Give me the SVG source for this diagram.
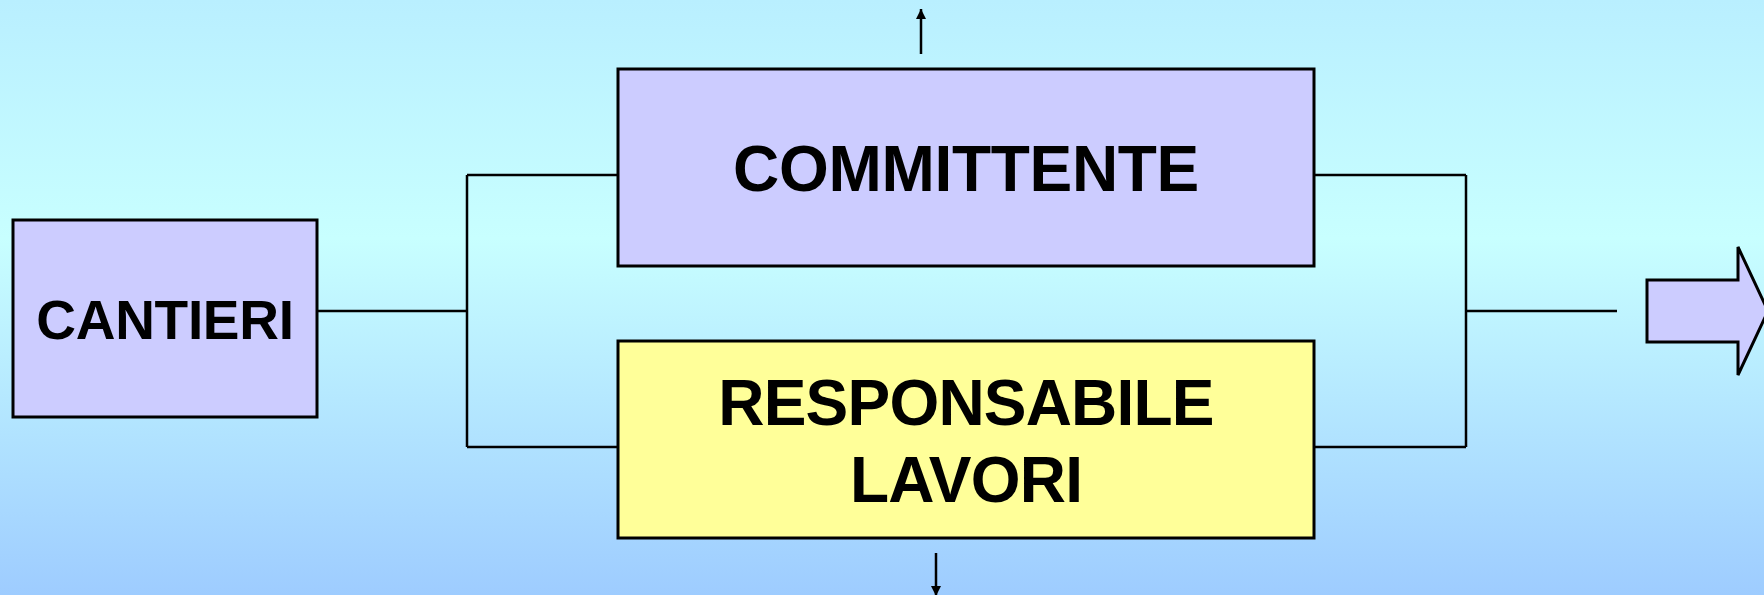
<svg xmlns="http://www.w3.org/2000/svg" width="1764" height="595" viewBox="0 0 1764 595">
<style>
.box{stroke:#000;stroke-width:3}
.lbl{font-family:"Liberation Sans",Arial,sans-serif;font-weight:bold;fill:#000;text-anchor:middle}
.wire{fill:none;stroke:#000;stroke-width:2.5}
</style>
<defs>
<linearGradient id="bg" x1="0" y1="0" x2="0" y2="1">
<stop offset="0" stop-color="#B9EFFF"/>
<stop offset="0.4" stop-color="#C8FFFF"/>
<stop offset="1" stop-color="#9ECCFF"/>
</linearGradient>
<marker id="ah" viewBox="0 0 10 10" refX="10" refY="5" markerWidth="4" markerHeight="4" markerUnits="strokeWidth" orient="auto">
<path d="M0,0 L10,5 L0,10 z" fill="#000"/>
</marker>
</defs>
<rect x="0" y="0" width="1764" height="595" fill="url(#bg)"/>
<g id="connectors">
<path class="wire" d="M317,311 H467 M467,175 V447 M467,175 H618 M467,447 H618"/>
<path class="wire" d="M1314,175 H1466 M1314,447 H1466 M1466,175 V447 M1466,311 H1617"/>
<line class="wire" x1="921" y1="54" x2="921" y2="9" marker-end="url(#ah)"/>
<line class="wire" x1="936" y1="553" x2="936" y2="596" marker-end="url(#ah)"/>
</g>
<g id="cantieri">
<rect class="box" x="13" y="220" width="304" height="197" fill="#CCCCFF"/>
<text class="lbl" x="165" y="339" font-size="55" letter-spacing="-0.3">CANTIERI</text>
</g>
<g id="committente">
<rect class="box" x="618" y="69" width="696" height="197" fill="#CCCCFF"/>
<text class="lbl" x="966" y="191" font-size="64" letter-spacing="-0.3">COMMITTENTE</text>
</g>
<g id="responsabile">
<rect class="box" x="618" y="341" width="696" height="197" fill="#FFFF99"/>
<text class="lbl" x="966" y="425" font-size="64" letter-spacing="-0.8">RESPONSABILE</text>
<text class="lbl" x="966" y="502" font-size="64" letter-spacing="-0.8">LAVORI</text>
</g>
<g id="output-arrow">
<polygon class="box" points="1647,280 1738,280 1738,247 1768,311 1738,375 1738,342 1647,342" fill="#CCCCFF"/>
</g>
</svg>
